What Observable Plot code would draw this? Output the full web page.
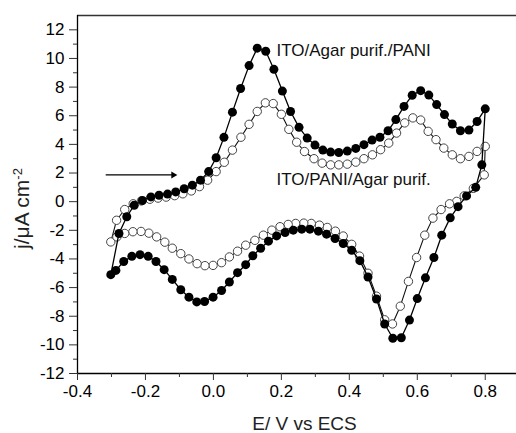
<!DOCTYPE html>
<html><head><meta charset="utf-8">
<script src="https://cdn.jsdelivr.net/npm/d3@7"></script>
<script src="https://cdn.jsdelivr.net/npm/@observablehq/plot@0.6"></script>
<style>html,body{margin:0;padding:0;background:#fff;}</style>
</head><body><div id="chart"></div>
<script>
// Filled circles: ITO/Agar purif./PANI (forward scan then reverse scan)
const filledE = [
 -0.302,-0.278,-0.255,-0.233,-0.209,-0.184,-0.160,-0.135,-0.111,-0.086,
 -0.062,-0.038,-0.014,0.008,0.031,0.056,0.080,0.105,0.129,0.154,
 0.178,0.203,0.227,0.252,0.276,0.299,0.322,0.345,0.369,0.394,
 0.419,0.443,0.467,0.490,0.514,0.537,0.561,0.585,0.610,0.634,
 0.657,0.680,0.703,0.727,0.752,0.776,0.800,
 0.790,0.772,0.745,0.720,0.697,0.672,0.649,0.624,0.600,0.577,
 0.553,0.528,0.504,0.480,0.455,0.431,0.407,0.382,0.358,0.333,
 0.309,0.284,0.260,0.235,0.211,0.186,0.162,0.139,0.116,0.095,
 0.071,0.047,0.024,-0.001,-0.026,-0.049,-0.072,-0.096,-0.121,-0.145,
 -0.169,-0.192,-0.216,-0.240,-0.264,-0.287];
const filledJ = [
 -5.1,-2.22,-1.05,-0.25,0.08,0.33,0.45,0.53,0.68,0.9,
 1.15,1.5,2.1,3.07,4.49,6.25,7.9,9.5,10.72,10.5,
 9.24,7.72,6.3,5.19,4.44,3.95,3.6,3.46,3.43,3.53,
 3.72,3.98,4.3,4.5,4.95,5.73,6.65,7.43,7.75,7.44,
 6.78,6.08,5.42,4.95,5.0,5.6,6.48,
 2.57,1.0,0.4,-0.35,-1.13,-2.34,-3.9,-5.32,-6.77,-8.27,
 -9.5,-9.54,-8.54,-6.8,-5.26,-4.12,-3.39,-2.92,-2.57,-2.27,
 -2.06,-1.92,-1.92,-1.99,-2.15,-2.39,-2.76,-3.25,-3.78,-4.4,
 -4.96,-5.61,-6.2,-6.67,-6.97,-7.0,-6.67,-6.15,-5.43,-4.75,
 -4.18,-3.82,-3.7,-3.82,-4.18,-4.8];
// Open circles: ITO/PANI/Agar purif.
const openE = [
 -0.302,-0.285,-0.261,-0.236,-0.212,-0.187,-0.163,-0.139,-0.114,-0.090,
 -0.065,-0.041,-0.017,0.008,0.032,0.056,0.081,0.105,0.129,0.153,
 0.176,0.200,0.222,0.245,0.268,0.296,0.320,0.345,0.369,0.394,
 0.419,0.443,0.468,0.492,0.516,0.539,0.563,0.587,0.610,0.632,
 0.655,0.678,0.703,0.727,0.752,0.776,0.800,
 0.797,0.765,0.738,0.716,0.695,0.670,0.646,0.622,0.598,0.574,
 0.550,0.527,0.504,0.480,0.455,0.430,0.407,0.382,0.359,0.335,
 0.312,0.288,0.266,0.242,0.220,0.196,0.172,0.147,0.122,0.095,
 0.071,0.047,0.024,-0.001,-0.025,-0.048,-0.072,-0.096,-0.121,-0.143,
 -0.167,-0.190,-0.213,-0.237,-0.261,-0.284];
const openJ = [
 -2.81,-1.3,-0.55,-0.15,0.05,0.17,0.25,0.32,0.42,0.55,
 0.75,1.05,1.5,2.1,2.75,3.6,4.5,5.4,6.3,6.9,
 6.85,6.1,5.05,4.15,3.5,3.0,2.69,2.57,2.57,2.62,
 2.76,3.0,3.27,3.63,4.09,4.79,5.5,5.85,5.7,4.91,
 4.33,3.74,3.27,3.0,3.16,3.51,3.86,
 1.87,0.93,0.4,0.02,-0.15,-0.55,-1.15,-2.34,-3.9,-5.57,
 -7.3,-8.54,-8.25,-6.6,-5.0,-3.8,-2.98,-2.4,-2.06,-1.8,
 -1.64,-1.52,-1.5,-1.52,-1.59,-1.75,-1.99,-2.34,-2.7,-3.04,
 -3.46,-3.86,-4.26,-4.45,-4.47,-4.33,-4.0,-3.63,-3.25,-2.83,
 -2.46,-2.2,-2.08,-2.1,-2.22,-2.46];

const seriesNames = ["ITO/Agar purif./PANI", "ITO/PANI/Agar purif."];
const xTicks = [-0.4,-0.2,0.0,0.2,0.4,0.6,0.8];
const xMinor = [-0.3,-0.1,0.1,0.3,0.5,0.7];
const yTicks = [-12,-10,-8,-6,-4,-2,0,2,4,6,8,10,12];
const yMinor = [-11,-9,-7,-5,-3,-1,1,3,5,7,9,11];
const xTitle = "E/ V vs ECS";
const yTitle = "j/\u03bcA cm-2";
const arrowE = [-0.317, -0.118];
const arrowJ = [1.87, 1.87];

const filled = filledE.map((e,i)=>({E:e, J:filledJ[i]}));
const open = openE.map((e,i)=>({E:e, J:openJ[i]}));
const arrow = [{x1:arrowE[0], x2:arrowE[1], y1:arrowJ[0], y2:arrowJ[1]}];

const font = "'Liberation Sans', Arial, sans-serif";

const chart = Plot.plot({
  width: 516, height: 433,
  marginLeft: 77, marginRight: 0, marginTop: 15, marginBottom: 60,
  x: {domain: [-0.4, 0.892]},
  y: {domain: [-12, 13]},
  style: {fontFamily: font, fontSize: "17px", color: "#000", background: "#fff"},
  marks: [
    Plot.line([...open, open[0]], {x: "E", y: "J", stroke: "#111", strokeWidth: 1.1}),
    Plot.dot(open, {x: "E", y: "J", r: 4.2, fill: "#fff", stroke: "#444", strokeWidth: 1}),
    Plot.line([...filled, filled[0]], {x: "E", y: "J", stroke: "#000", strokeWidth: 1.3}),
    Plot.dot(filled, {x: "E", y: "J", r: 4.5, fill: "#000", stroke: "none"}),
    Plot.ruleY([13], {stroke: "#333", strokeWidth: 1.3}),
    Plot.ruleY([-12], {stroke: "#000", strokeWidth: 1.3}),
    Plot.ruleX([-0.4], {stroke: "#000", strokeWidth: 1.3}),
    Plot.axisX(xTicks, {tickSize: 7, tickPadding: 4, tickFormat: d => d.toFixed(1), fontSize: 17, label: null, stroke: "#333"}),
    Plot.axisX(xMinor, {tickSize: 4, tickFormat: () => "", label: null, stroke: "#333"}),
    Plot.axisY(yTicks, {tickSize: 8, tickPadding: 5, tickFormat: d => String(d), fontSize: 17, label: null, stroke: "#333"}),
    Plot.axisY(yMinor, {tickSize: 4, tickFormat: () => "", label: null, stroke: "#333"}),
    Plot.link(arrow, {x1: "x1", y1: "y1", x2: "x2", y2: "y2", stroke: "#000", strokeWidth: 1.2}),
    Plot.dot(arrow, {x: "x2", y: "y2", symbol: "triangle", rotate: 90, r: 2.6, fill: "#000", stroke: "none"}),
    Plot.text([seriesNames[0]], {frameAnchor: "top-left", dx: 199, dy: 35.5, textAnchor: "start", lineAnchor: "middle", fontSize: 17, fill: "#111"}),
    Plot.text([seriesNames[1]], {frameAnchor: "top-left", dx: 199, dy: 163.8, textAnchor: "start", lineAnchor: "middle", fontSize: 17, fill: "#111"}),
    Plot.text([xTitle], {frameAnchor: "bottom", dx: 7.5, dy: 50, textAnchor: "middle", lineAnchor: "middle", fontSize: 19, fill: "#222"}),
    Plot.text([yTitle], {frameAnchor: "left", dx: -55, dy: 14, rotate: -90, textAnchor: "middle", lineAnchor: "middle", fontSize: 21, fill: "#222"})
  ]
});
document.getElementById("chart").appendChild(chart);

// superscript exponent in the y title
for (const t of chart.querySelectorAll("text")) {
  if (t.textContent === yTitle) {
    t.textContent = "";
    const ns = "http://www.w3.org/2000/svg";
    const a = document.createElementNS(ns, "tspan");
    a.textContent = "j/\u03bcA cm";
    const b = document.createElementNS(ns, "tspan");
    b.textContent = "-2";
    b.setAttribute("dy", "-0.55em");
    b.setAttribute("font-size", "13");
    t.appendChild(a); t.appendChild(b);
  }
}
</script>
</body></html>
